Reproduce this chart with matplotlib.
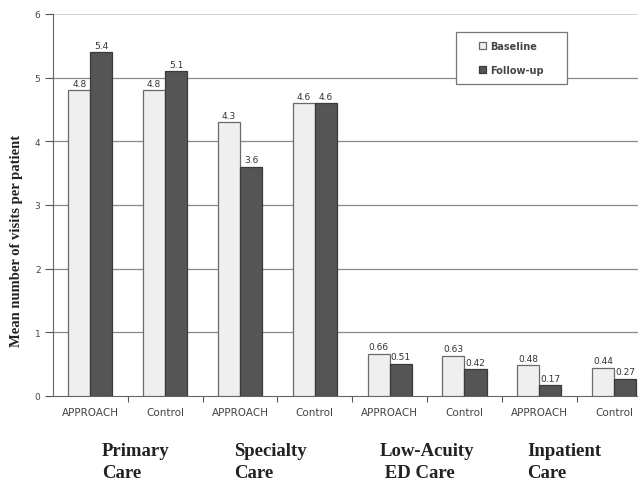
import matplotlib.pyplot as plt
from matplotlib.patches import Rectangle
import numpy as np

groups = ["APPROACH", "Control", "APPROACH", "Control",
          "APPROACH", "Control", "APPROACH", "Control"]
baseline = [4.8, 4.8, 4.3, 4.6, 0.66, 0.63, 0.48, 0.44]
followup = [5.4, 5.1, 3.6, 4.6, 0.51, 0.42, 0.17, 0.27]
base_labels = ["4.8", "4.8", "4.3", "4.6", "0.66", "0.63", "0.48", "0.44"]
follow_labels = ["5.4", "5.1", "3.6", "4.6", "0.51", "0.42", "0.17", "0.27"]
sections = ["Primary\nCare", "Specialty\nCare", "Low-Acuity\n ED Care", "Inpatient\nCare"]
section_x = [102, 234, 380, 527]  # pixel positions of section captions

fig = plt.figure(figsize=(6.38, 4.81), dpi=100)
ax = fig.add_axes([53 / 638, 1 - 397 / 481, 1 - 53 / 638, (397 - 15) / 481])

x = np.arange(len(groups))
w = 0.295
ax.bar(x - w / 2, baseline, w, color="#efefef", edgecolor="#6a6a6a", linewidth=0.9,
       label="Baseline", zorder=3)
ax.bar(x + w / 2, followup, w, color="#555555", edgecolor="#3a3a3a", linewidth=0.9,
       label="Follow-up", zorder=3)

for i in range(len(groups)):
    ax.text(x[i] - w / 2, baseline[i] + 0.04, base_labels[i], ha="center", va="bottom",
            fontsize=6.5, color="#333333", zorder=4)
    ax.text(x[i] + w / 2, followup[i] + 0.04, follow_labels[i], ha="center", va="bottom",
            fontsize=6.5, color="#333333", zorder=4)

ax.set_xlim(-0.5, 7.32)
ax.set_ylim(0, 6)
ax.set_yticks(range(7))
ax.set_yticklabels([str(v) for v in range(7)], fontsize=6.5, color="#444444")
for v in range(1, 6):
    ax.axhline(v, color="#8a8a8a", linewidth=0.9, zorder=1)
ax.axhline(6, color="#cccccc", linewidth=1.2, zorder=1)

ax.set_xticks(np.arange(0.5, 7, 1))
ax.set_xticklabels([])
ax.set_xticks(x, minor=True)
ax.set_xticklabels(groups, minor=True, fontsize=7.5, color="#444444")
ax.tick_params(axis="x", which="minor", length=0, pad=8)
ax.tick_params(axis="x", which="major", length=4, color="#555555", direction="out")
ax.tick_params(axis="y", length=6, color="#555555", pad=3)

for s in ["top", "right"]:
    ax.spines[s].set_visible(False)
ax.spines["left"].set_color("#666666")
ax.spines["bottom"].set_color("#666666")

ax.set_ylabel("Mean number of visits per patient", family="Liberation Serif",
              fontweight="bold", fontsize=10.5, color="#222222")
ax.yaxis.set_label_coords((23 - 53) / 585, (397 - 241) / 382)

# legend box drawn by hand so the padding matches the original
bx0, by0 = (456 - 53) / 585, (397 - 85) / 382
ax.add_patch(Rectangle((bx0, by0), 111 / 585, 52 / 382, transform=ax.transAxes,
                       facecolor="white", edgecolor="#777777", linewidth=0.9, zorder=5))
leg = ax.legend(loc="upper left", bbox_to_anchor=((479 - 53) / 585, (397 - 42) / 382),
                fontsize=7, frameon=False, handlelength=0.7, handleheight=0.7,
                borderpad=0, labelspacing=1.4, handletextpad=0.4, borderaxespad=0)
leg.set_zorder(6)
for t in leg.get_texts():
    t.set_color("#444444")
    t.set_fontweight("bold")

for label, px in zip(sections, section_x):
    fig.text(px / 638, 1 - 443 / 481, label, ha="left", va="top",
             family="Liberation Serif", fontweight="bold", fontsize=13.5,
             color="#222222", linespacing=1.35)

fig.savefig("out.png", dpi=100)
